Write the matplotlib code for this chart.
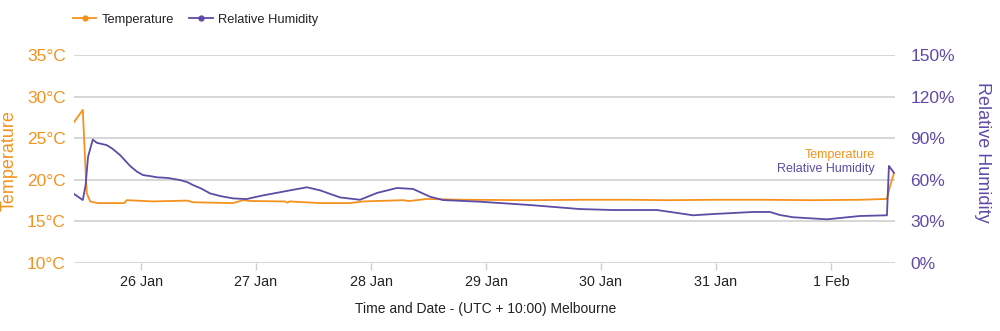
import matplotlib
matplotlib.use("Agg")
import matplotlib.pyplot as plt
import matplotlib.dates as mdates
from matplotlib.lines import Line2D
from matplotlib.ticker import FuncFormatter
import pandas as pd

plt.rcParams['font.family'] = ['Liberation Sans', 'DejaVu Sans']

ORANGE = '#F5921E'
PURPLE = '#5E4BA6'

temp_times = [
    "2021-01-25 09:50", "2021-01-25 11:50", "2021-01-25 12:18", "2021-01-25 12:40",
    "2021-01-25 13:22", "2021-01-25 15:00", "2021-01-25 20:30", "2021-01-25 21:00",
    "2021-01-25 23:00", "2021-01-26 02:30", "2021-01-26 09:36", "2021-01-26 10:51",
    "2021-01-26 19:12", "2021-01-26 21:17", "2021-01-26 23:00", "2021-01-27 06:00",
    "2021-01-27 06:29", "2021-01-27 07:00", "2021-01-27 13:22", "2021-01-27 19:36",
    "2021-01-27 22:19", "2021-01-28 06:40", "2021-01-28 08:00", "2021-01-28 11:41",
    "2021-01-28 19:12", "2021-01-29 09:11", "2021-01-29 20:00", "2021-01-30 06:00",
    "2021-01-30 14:00", "2021-01-31 00:00", "2021-01-31 10:00", "2021-01-31 20:00",
    "2021-02-01 06:00", "2021-02-01 11:41", "2021-02-01 12:19", "2021-02-01 13:09",
]
temp_values = [
    26.8, 28.4, 22.6, 18.4,
    17.4, 17.2, 17.2, 17.55,
    17.5, 17.4, 17.5, 17.3,
    17.2, 17.55, 17.45, 17.4,
    17.25, 17.4, 17.2, 17.2,
    17.4, 17.55, 17.45, 17.7,
    17.6, 17.55, 17.6, 17.6,
    17.55, 17.6, 17.6, 17.55,
    17.6, 17.7, 19.2, 20.8,
]

rh_times = [
    "2021-01-25 09:50", "2021-01-25 11:50", "2021-01-25 12:25", "2021-01-25 12:56",
    "2021-01-25 13:55", "2021-01-25 14:45", "2021-01-25 16:50", "2021-01-25 18:00",
    "2021-01-25 19:36", "2021-01-25 21:42", "2021-01-25 23:10", "2021-01-26 00:25",
    "2021-01-26 01:50", "2021-01-26 03:20", "2021-01-26 05:40", "2021-01-26 08:08",
    "2021-01-26 09:36", "2021-01-26 10:51", "2021-01-26 12:30", "2021-01-26 14:24",
    "2021-01-26 16:30", "2021-01-26 19:12", "2021-01-26 22:00", "2021-01-27 00:50",
    "2021-01-27 02:56", "2021-01-27 07:06", "2021-01-27 10:38", "2021-01-27 13:22",
    "2021-01-27 17:31", "2021-01-27 21:42", "2021-01-28 01:14", "2021-01-28 05:25",
    "2021-01-28 08:46", "2021-01-28 12:19", "2021-01-28 15:01", "2021-01-28 22:45",
    "2021-01-29 09:11", "2021-01-29 19:36", "2021-01-30 02:30", "2021-01-30 11:41",
    "2021-01-30 16:29", "2021-01-30 19:12", "2021-01-30 23:22", "2021-01-31 07:44",
    "2021-01-31 11:16", "2021-01-31 13:22", "2021-01-31 16:05", "2021-01-31 23:10",
    "2021-02-01 06:02", "2021-02-01 11:41", "2021-02-01 12:06", "2021-02-01 13:09",
]
rh_values = [
    50.2, 45.4, 56.0, 76.6,
    89.0, 86.7, 85.0, 82.5,
    77.9, 70.0, 65.8, 63.4,
    62.7, 61.8, 61.3, 59.8,
    58.4, 56.2, 53.8, 50.2,
    48.3, 46.6, 46.1, 48.3,
    49.7, 52.4, 54.6, 52.4,
    47.3, 45.6, 50.5, 54.1,
    53.4, 47.8, 45.4, 44.2,
    41.8, 38.9, 38.2, 38.2,
    35.8, 34.4, 35.3, 36.8,
    36.8, 34.6, 33.0, 31.5,
    33.9, 34.4, 70.0, 65.0,
]

temp_ticks = [10, 15, 20, 25, 30, 35]
rh_ticks = [0, 30, 60, 90, 120, 150]
x_start = "2021-01-25 10:00"
x_end = "2021-02-01 13:22"

W, H = 1000, 331
fig = plt.figure(figsize=(W / 100, H / 100), dpi=100)
ax = fig.add_axes([74 / W, 1 - 263 / H, (895 - 74) / W, (263 - 55) / H])
ax2 = ax.twinx()

tt = pd.to_datetime(temp_times)
rt = pd.to_datetime(rh_times)

ax.plot(tt, temp_values, color=ORANGE, lw=1.3, zorder=3)
ax2.plot(rt, rh_values, color=PURPLE, lw=1.3, zorder=3)

ax.set_xlim(pd.Timestamp(x_start), pd.Timestamp(x_end))
ax.set_ylim(10, 35)
ax2.set_ylim(0, 150)
ax.set_yticks(temp_ticks)
ax2.set_yticks(rh_ticks)
ax.set_yticklabels([f"{v}°C" for v in temp_ticks])
ax2.set_yticklabels([f"{v}%" for v in rh_ticks])

ax.grid(axis='y', color='#d3d3d3', lw=1.3)
ax.set_axisbelow(True)
for a in (ax, ax2):
    for s in a.spines.values():
        s.set_visible(False)

ax.tick_params(axis='y', length=0, pad=6, labelsize=12.5, labelcolor=ORANGE)
ax2.tick_params(axis='y', length=0, pad=11, labelsize=12.5, labelcolor=PURPLE)

ax.xaxis.set_major_locator(mdates.DayLocator())
ax.xaxis.set_major_formatter(FuncFormatter(
    lambda v, p: f"{mdates.num2date(v).day} {mdates.num2date(v):%b}"))
ax.tick_params(axis='x', length=5, width=1, color='#cccccc', labelsize=10.3,
               labelcolor='#222222', pad=4)

fig.text(9.5 / W, 1 - 161 / H, "Temperature", rotation=90, ha='center', va='center',
         color=ORANGE, fontsize=13)
fig.text(983 / W, 1 - 152 / H, "Relative Humidity", rotation=-90, ha='center', va='center',
         color=PURPLE, fontsize=13)
fig.text(486 / W, 1 - 309 / H, "Time and Date - (UTC + 10:00) Melbourne", ha='center',
         va='center', color='#222222', fontsize=10)

fig.text(875 / W, 1 - 155 / H, "Temperature", ha='right', va='center', color=ORANGE, fontsize=9)
fig.text(875 / W, 1 - 169 / H, "Relative Humidity", ha='right', va='center', color=PURPLE, fontsize=9)

handles = [Line2D([], [], color=ORANGE, lw=1.3, marker='o', markersize=3.5),
           Line2D([], [], color=PURPLE, lw=1.3, marker='o', markersize=3.5)]
fig.legend(handles, ["Temperature", "Relative Humidity"], loc='center left',
           bbox_to_anchor=(73 / W, 1 - 20 / H), ncol=2, frameon=False, fontsize=9.3,
           handlelength=1.8, handletextpad=0.4, columnspacing=1.2, borderpad=0,
           borderaxespad=0, labelcolor='#222222')

fig.savefig("out.png", dpi=100)
